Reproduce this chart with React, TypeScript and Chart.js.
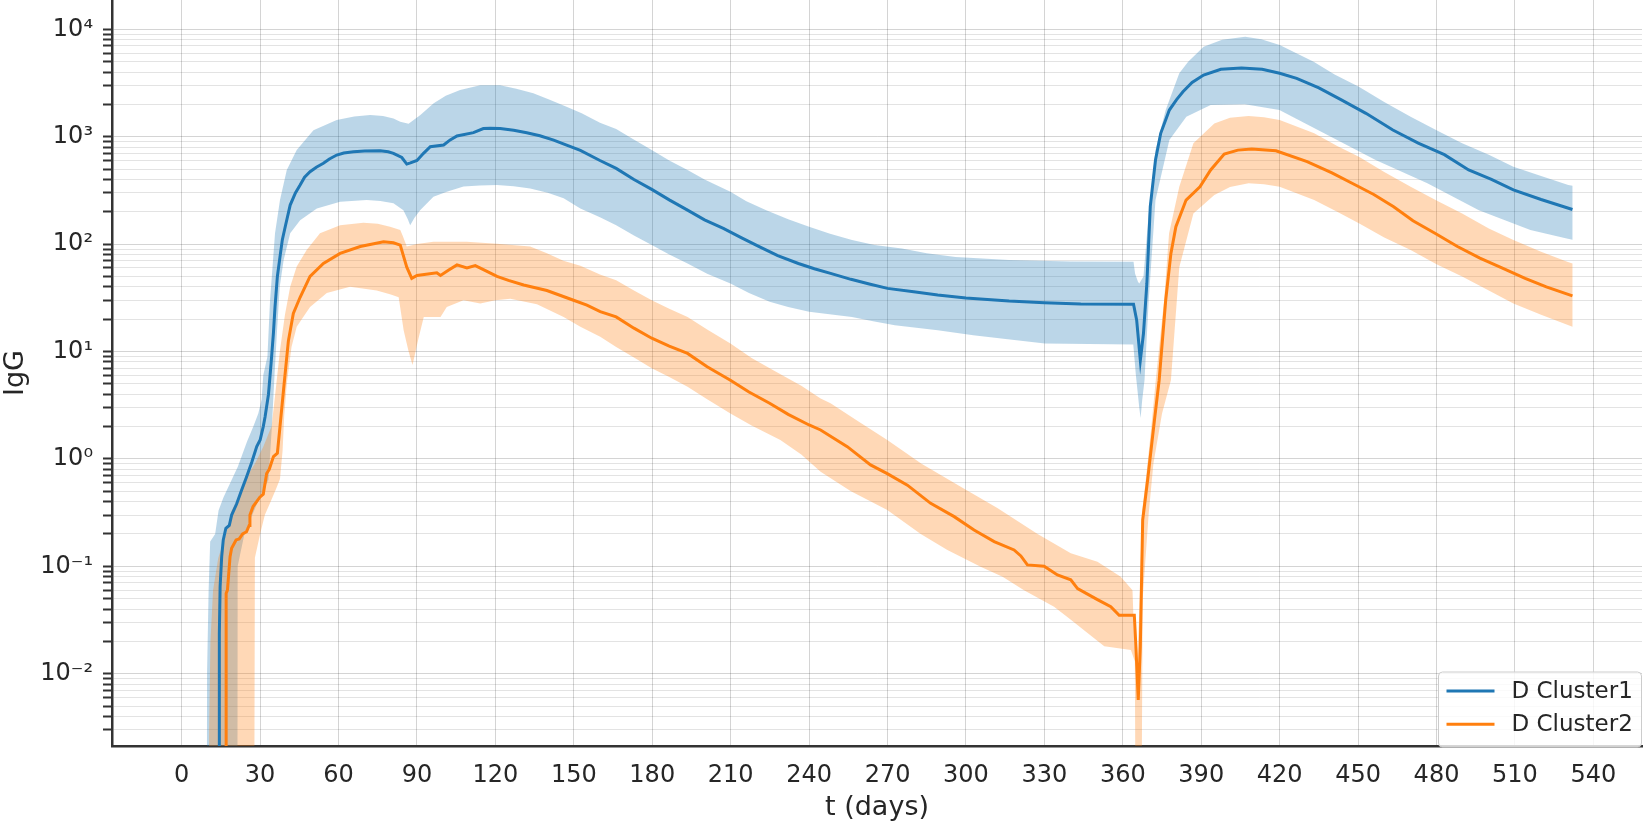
import { useEffect, useRef } from "react";
import { Chart, registerables } from "chart.js";

Chart.register(...registerables);

type Pt = [number, number];

// [day, IgG]; 1e-4 marks where a curve runs below the axis
const cluster1Median: Pt[] = [
  [14.3, 1e-4], [14.4, 0.024], [14.7, 0.065], [15.3, 0.123], [15.9, 0.176], [16.9, 0.226],
  [18.2, 0.24], [19.1, 0.3], [21, 0.38], [22.9, 0.51], [24.8, 0.68], [26.8, 0.93],
  [28.7, 1.3], [30, 1.5], [31.2, 2.0], [31.9, 2.47], [33.2, 4.0], [34.2, 7.8], [35.1, 15],
  [35.7, 26], [36.6, 50], [37.6, 76], [38.5, 110], [39.6, 145], [41.5, 231], [43.5, 300],
  [45.3, 355], [47, 420], [49.1, 472], [51.5, 520], [54.2, 565], [56.5, 620], [59.3, 675],
  [62, 705], [65.7, 725], [70, 735], [75.9, 740], [79, 725], [81, 700], [84.2, 640],
  [86.1, 556], [87.5, 570], [90, 600], [92.5, 700], [95.1, 807], [100.2, 836], [102.7, 933],
  [105.3, 1015], [111.6, 1090], [115.4, 1190], [118, 1200], [121.8, 1190], [127, 1150],
  [132, 1090], [137, 1020], [142.3, 930], [147, 840], [152.5, 745], [160, 600], [166.2, 507],
  [173, 400], [179.8, 323], [186.5, 258], [193.5, 207], [200, 168], [207.2, 140], [214, 115],
  [220.9, 94.6], [228, 78], [235.9, 66], [242, 59], [248.2, 53.4], [256, 47], [263, 42.5],
  [270, 38.7], [280, 36], [289.2, 33.6], [300, 31.5], [316.5, 29.5], [330, 28.5],
  [343.9, 27.7], [364.1, 27.5], [365.3, 19.6], [366.7, 8.3], [367.9, 14.7], [369.2, 43],
  [370.5, 223], [372.5, 607], [374.5, 1075], [377.8, 1770], [380.5, 2200], [383, 2620],
  [386.5, 3200], [390.9, 3750], [397.5, 4240], [405.4, 4360], [413.3, 4240], [420, 3900],
  [426.5, 3490], [435, 2850], [443.6, 2200], [453, 1650], [463.3, 1154], [473, 870],
  [483, 680], [492.3, 490], [501, 400], [509.4, 320], [520, 260], [532, 210],
];

const cluster1Upper: Pt[] = [
  [9.6, 1e-4], [9.7, 0.01], [10.3, 0.06], [10.9, 0.17], [12.8, 0.2], [14.1, 0.33],
  [16, 0.44], [18.6, 0.6], [21.5, 0.85], [25, 1.45], [27.4, 2.0], [29.3, 2.65], [30.6, 3.6],
  [31.2, 6], [32.8, 9], [33.8, 30], [35.7, 126], [37.6, 257], [40.2, 490], [44, 750],
  [50.4, 1150], [59.3, 1430], [66, 1540], [72.1, 1590], [77, 1560], [81, 1480],
  [83.6, 1380], [86.8, 1320], [91.3, 1590], [96.4, 2050], [101, 2400], [106.5, 2720],
  [114.2, 3010], [121.8, 3010], [128, 2800], [134.5, 2535], [141, 2200], [147.2, 1900],
  [153, 1650], [160, 1350], [166.2, 1180], [172.6, 950], [179.8, 751], [186.5, 600],
  [193.5, 490], [200, 400], [209.9, 307], [216, 250], [223.6, 207], [232, 170], [240, 145],
  [248, 125], [256.4, 109], [265, 98], [275.5, 91], [285, 82], [296, 76], [316.5, 71],
  [340, 69], [364.1, 68.5], [364.7, 53], [365.8, 44.6], [366.3, 43], [367.9, 50],
  [369.8, 180], [372.5, 751], [376.4, 1770], [381.6, 3890], [385, 5000], [390.9, 6890],
  [398, 8000], [406.8, 8530], [413, 8100], [420, 7140], [433, 4990], [441, 3800],
  [450.3, 2920], [460, 2100], [470.1, 1535], [480, 1150], [489.8, 867], [500, 680],
  [509.4, 526], [520, 430], [530.4, 355], [532, 350],
];

const cluster1Lower: Pt[] = [
  [21.3, 1e-4], [21.4, 0.1], [24, 0.2], [27, 0.3], [30, 0.45], [33.2, 0.64], [34.5, 2],
  [35.5, 6], [36.4, 14.7], [37.5, 40], [39, 71], [41.5, 126], [45.3, 167], [51.7, 215],
  [60.6, 248], [70.8, 257], [76, 252], [81, 240], [84.8, 207], [86.5, 170], [87.4, 150],
  [89, 175], [91.2, 207], [96.3, 276], [101.4, 308], [107.8, 343], [114, 352], [120.6, 355],
  [127, 345], [133.3, 330], [140, 300], [146.1, 267], [152.5, 215], [160, 178], [166.2, 150],
  [173, 120], [179.8, 98], [186.5, 80], [193.5, 66], [201, 53], [209.9, 43], [217, 35],
  [224.9, 29], [232, 26], [240, 23.5], [256.4, 21], [265, 19], [272.8, 17.6], [289.2, 15.8],
  [302.8, 14.2], [316, 13], [330.2, 11.9], [364, 11.6], [365, 6], [366.3, 3], [366.8, 2.4],
  [367.4, 3.5], [368.3, 5.4], [369.9, 30], [372.5, 257], [377.8, 930], [384.3, 1535],
  [393.6, 1970], [406.7, 2010], [419.9, 1770], [437, 1075], [456.7, 607], [476.5, 368],
  [496.2, 207], [515.9, 135], [529.8, 113], [532, 110],
];

const cluster2Median: Pt[] = [
  [17, 1e-4], [17, 0.056], [17.5, 0.06], [18, 0.086], [18.5, 0.123], [19.1, 0.147],
  [20.8, 0.176], [22, 0.18], [23.3, 0.2], [24.8, 0.21], [25.8, 0.24], [26.1, 0.3],
  [27.3, 0.36], [29.9, 0.44], [31.2, 0.47], [32.5, 0.73], [33.5, 0.8], [35.1, 1.05],
  [36.6, 1.13], [37.6, 2.0], [39, 4.5], [40.8, 12.5], [42.7, 22.6], [45.3, 32], [49.1, 50],
  [54.2, 66], [60.6, 82], [68.3, 95], [77.2, 105], [81, 103], [83.6, 98], [86.1, 61],
  [88, 48], [90, 51], [97.6, 54], [99, 51], [102, 57], [105.3, 64], [109.1, 60], [112.3, 63],
  [116, 57], [120.6, 50], [125, 46], [130.8, 41.6], [139.7, 37], [149.9, 30], [155, 27],
  [160.1, 23.5], [166.2, 21], [173, 16.5], [179.8, 13.3], [186.5, 11.2], [193.5, 9.6],
  [201, 7.2], [209.9, 5.4], [217, 4.2], [224.9, 3.3], [232, 2.6], [240, 2.07], [244.4, 1.86],
  [254.6, 1.3], [263.5, 0.88], [269.9, 0.73], [277.6, 0.57], [286.5, 0.386], [295.5, 0.29],
  [303.1, 0.218], [310.8, 0.17], [318.4, 0.142], [321, 0.125], [323.5, 0.103], [329.9, 0.1],
  [335, 0.083], [340.1, 0.075], [342.7, 0.062], [346, 0.056], [350.3, 0.049], [355.4, 0.042],
  [358.6, 0.035], [364.4, 0.035], [365, 0.018], [365.9, 0.0057], [366.7, 0.018],
  [367.6, 0.27], [369.5, 0.64], [372.1, 2.3], [373.9, 5.4], [376.4, 30], [378.4, 82],
  [380.3, 145], [384.2, 257], [389.5, 342], [393.6, 490], [398.8, 690], [404, 750],
  [409.3, 770], [418.6, 740], [430.5, 586], [440, 460], [449, 355], [456, 290], [463.6, 223],
  [471, 165], [479.4, 126], [488, 95], [496.6, 74], [505, 60], [513.9, 48], [522, 40],
  [532, 33],
];

const cluster2Upper: Pt[] = [
  [10.2, 1e-4], [10.5, 0.003], [11, 0.02], [12, 0.06], [14, 0.12], [17, 0.2], [19.1, 0.33],
  [22, 0.45], [24.8, 0.68], [28, 0.9], [31.2, 1.3], [33.8, 1.86], [34.4, 2.0], [36, 4.5],
  [37.6, 10.3], [39.5, 22], [41.5, 40], [44, 62], [47.8, 88], [52.9, 126], [60.6, 150],
  [69.5, 158], [75, 155], [79.7, 145], [83.6, 135], [84.5, 120], [86.1, 95], [90, 100],
  [96.3, 105], [109, 105], [120.6, 101], [133.3, 95], [139.7, 82], [146, 70], [152.5, 63],
  [160, 52], [166.2, 46], [173, 37], [179.8, 30], [186.5, 25], [193.5, 21], [201, 16],
  [209.9, 11.9], [218, 8.7], [226.3, 6.7], [237, 4.8], [244.4, 3.66], [248.2, 3.3],
  [258, 2.3], [269.9, 1.5], [283, 0.9], [298, 0.55], [312, 0.35], [327.4, 0.2],
  [340.1, 0.132], [350.3, 0.11], [359.2, 0.08], [363.7, 0.06], [364.4, 0.02], [365.5, 0.012],
  [366.5, 0.05], [367.3, 0.31], [368.8, 0.64], [370.8, 1.86], [372.6, 5.4], [375.8, 30],
  [377.7, 126], [381.6, 342], [387, 867], [395, 1330], [401, 1500], [408.1, 1560],
  [414, 1520], [420, 1430], [433.2, 1075], [442, 820], [450.3, 652], [460, 470],
  [470.1, 342], [480, 255], [489.8, 193], [500, 140], [509.4, 109], [520, 85], [530, 68.5],
  [532, 66],
];

const cluster2Lower: Pt[] = [
  [27.7, 1e-4], [28, 0.12], [30, 0.2], [31.8, 0.3], [34, 0.4], [36, 0.52], [37.6, 0.65],
  [38.6, 1.2], [39.2, 2.5], [40.2, 5], [42, 11], [44, 17], [46.5, 21], [49.1, 26],
  [55.5, 35], [64.4, 40], [74.6, 37], [80, 34], [83, 32], [84.9, 15.8], [86.8, 10],
  [88.3, 7.5], [90.5, 13], [92.6, 21], [94, 21], [99, 21], [101.4, 26], [107.8, 30],
  [114.2, 28], [120, 30], [125.7, 31], [135.9, 27.6], [146.1, 21], [152.5, 17], [160.1, 13.7],
  [166.2, 11], [173, 8.8], [179.8, 7], [186.5, 5.8], [193.5, 4.7], [201, 3.6], [209.9, 2.65],
  [218, 2.05], [229, 1.5], [237, 1.1], [244.4, 0.76], [256, 0.5], [269.9, 0.334],
  [282.7, 0.2], [292.9, 0.142], [305.6, 0.099], [314, 0.08], [322.2, 0.06], [333.7, 0.042],
  [340, 0.032], [346.5, 0.024], [352.9, 0.018], [363.1, 0.0166], [364.6, 0.013], [365, 1e-4],
  [367, 1e-4], [367.6, 0.05], [369.9, 0.31], [371.7, 0.9], [375, 2.65], [378.4, 5.4],
  [381.6, 61], [387, 193], [395, 286], [401, 340], [408.1, 368], [414, 360], [420, 342],
  [433.2, 257], [442, 200], [450.3, 156], [460, 115], [470.1, 88], [480, 65], [489.8, 50],
  [500, 37], [509.4, 28], [520, 22], [530, 17.7], [532, 17],
];

const seriesLabels = ["D Cluster1", "D Cluster2"];
const lineColors = ["#1f77b4", "#ff7f0e"];
const bandColors = ["rgba(31,119,180,0.3)", "rgba(255,127,14,0.3)"];

const xTicks = [0, 30, 60, 90, 120, 150, 180, 210, 240, 270, 300, 330, 360, 390, 420, 450, 480, 510, 540];
const yDecades = [-3, -2, -1, 0, 1, 2, 3, 4];

const X_MIN = -26.66;
const X_MAX = 558.6;
const Y_MIN = 0.002123;
const Y_MAX = 18740;

const FONT = "'DejaVu Sans', sans-serif";
const TEXT = "#262626";

const SUP: Record<string, string> = {
  "-": "\u207b", "0": "\u2070", "1": "\u00b9", "2": "\u00b2", "3": "\u00b3",
  "4": "\u2074", "5": "\u2075", "6": "\u2076", "7": "\u2077", "8": "\u2078", "9": "\u2079",
};
const powerLabel = (e: number) => "10" + String(e).split("").map((c) => SUP[c]).join("");
const isDecade = (v: number) => Math.abs(Math.log10(v) - Math.round(Math.log10(v))) < 1e-9;

const toXY = (pts: Pt[]) => pts.map(([x, y]) => ({ x, y }));
const bandShape = (up: Pt[], lo: Pt[]) => toXY([...up, ...lo.slice().reverse()]);

const boxLegend = {
  id: "boxLegend",
  afterDraw(chart: Chart) {
    const { ctx, chartArea } = chart;
    const items = seriesLabels
      .map((name) => chart.data.datasets.find((d) => d.label === name))
      .filter(Boolean) as any[];
    const w = 203;
    const h = 75;
    const x0 = chartArea.right - w - 0.5;
    const y0 = chartArea.bottom - h + 1;
    ctx.save();
    ctx.beginPath();
    ctx.roundRect(x0, y0, w, h, 4);
    ctx.fillStyle = "rgba(255,255,255,0.8)";
    ctx.fill();
    ctx.strokeStyle = "#cccccc";
    ctx.lineWidth = 1;
    ctx.stroke();
    ctx.font = `23px ${FONT}`;
    ctx.textBaseline = "middle";
    items.forEach((d, i) => {
      const y = y0 + 19 + i * 33.3;
      ctx.strokeStyle = d.borderColor;
      ctx.lineWidth = 3;
      ctx.beginPath();
      ctx.moveTo(x0 + 8, y);
      ctx.lineTo(x0 + 56, y);
      ctx.stroke();
      ctx.fillStyle = TEXT;
      ctx.fillText(d.label, x0 + 73, y + 1);
    });
    ctx.restore();
  },
};

function IgGChart() {
  const canvasRef = useRef<HTMLCanvasElement | null>(null);

  useEffect(() => {
    if (!canvasRef.current) return;
    const chart = new Chart(canvasRef.current, {
      type: "line",
      data: {
        datasets: [
          {
            label: seriesLabels[1],
            data: toXY(cluster2Median),
            borderColor: lineColors[1],
            borderWidth: 3,
            pointRadius: 0,
            fill: false,
            order: 0,
          },
          {
            label: seriesLabels[0],
            data: toXY(cluster1Median),
            borderColor: lineColors[0],
            borderWidth: 3,
            pointRadius: 0,
            fill: false,
            order: 1,
          },
          {
            label: "band2",
            data: bandShape(cluster2Upper, cluster2Lower),
            borderColor: "transparent",
            borderWidth: 0,
            backgroundColor: bandColors[1],
            pointRadius: 0,
            fill: "shape",
            order: 2,
          },
          {
            label: "band1",
            data: bandShape(cluster1Upper, cluster1Lower),
            borderColor: "transparent",
            borderWidth: 0,
            backgroundColor: bandColors[0],
            pointRadius: 0,
            fill: "shape",
            order: 3,
          },
        ],
      },
      options: {
        responsive: false,
        animation: false,
        events: [],
        layout: { padding: { top: 0, left: 0, bottom: 0, right: 1 } },
        plugins: {
          legend: { display: false },
          tooltip: { enabled: false },
        },
        scales: {
          x: {
            type: "linear",
            min: X_MIN,
            max: X_MAX,
            afterBuildTicks: (scale: any) => {
              scale.ticks = xTicks.map((value) => ({ value }));
            },
            afterFit: (scale: any) => {
              scale.height = 79;
              scale.paddingLeft = 0;
              scale.paddingRight = 0;
            },
            grid: { color: "rgba(0,0,0,0.17)", lineWidth: 1, drawTicks: false },
            border: { color: "#333333", width: 2.5 },
            ticks: {
              autoSkip: false,
              maxRotation: 0,
              padding: 15,
              color: TEXT,
              font: { family: FONT, size: 24 },
              callback: (v: any) => String(v),
            },
            title: {
              display: true,
              text: "t (days)",
              color: TEXT,
              font: { family: FONT, size: 27 },
              padding: { top: 0, bottom: 1 },
            },
          },
          y: {
            type: "logarithmic",
            min: Y_MIN,
            max: Y_MAX,
            afterBuildTicks: (scale: any) => {
              const vals: { value: number }[] = [];
              yDecades.forEach((e) => {
                for (let k = 1; k <= 9; k++) {
                  const v = Number((k * Math.pow(10, e)).toPrecision(6));
                  if (v >= Y_MIN && v <= Y_MAX) vals.push({ value: v });
                }
              });
              scale.ticks = vals;
            },
            afterFit: (scale: any) => {
              scale.width = 112;
              scale.paddingTop = 0;
              scale.paddingBottom = 0;
            },
            grid: {
              color: (c: any) => (c.tick && isDecade(c.tick.value) ? "rgba(0,0,0,0.17)" : "rgba(0,0,0,0.11)"),
              lineWidth: 1,
              drawTicks: true,
              tickLength: 9,
              tickColor: "#333333",
              tickWidth: 2,
            },
            border: { color: "#333333", width: 2.5 },
            ticks: {
              autoSkip: false,
              padding: 10,
              color: TEXT,
              font: { family: FONT, size: 24 },
              callback: (v: any) => (isDecade(Number(v)) ? powerLabel(Math.round(Math.log10(Number(v)))) : ""),
            },
            title: {
              display: true,
              text: "IgG",
              color: TEXT,
              font: { family: FONT, size: 27 },
              padding: { top: 0, bottom: 0 },
            },
          },
        },
      },
      plugins: [boxLegend],
    } as any);
    return () => chart.destroy();
  }, []);

  return <canvas ref={canvasRef} width={1643} height={825} />;
}

export default function App() {
  return (
    <div style={{ position: "absolute", left: 0, top: 0, width: 1643, height: 825, background: "#ffffff" }}>
      <IgGChart />
    </div>
  );
}
